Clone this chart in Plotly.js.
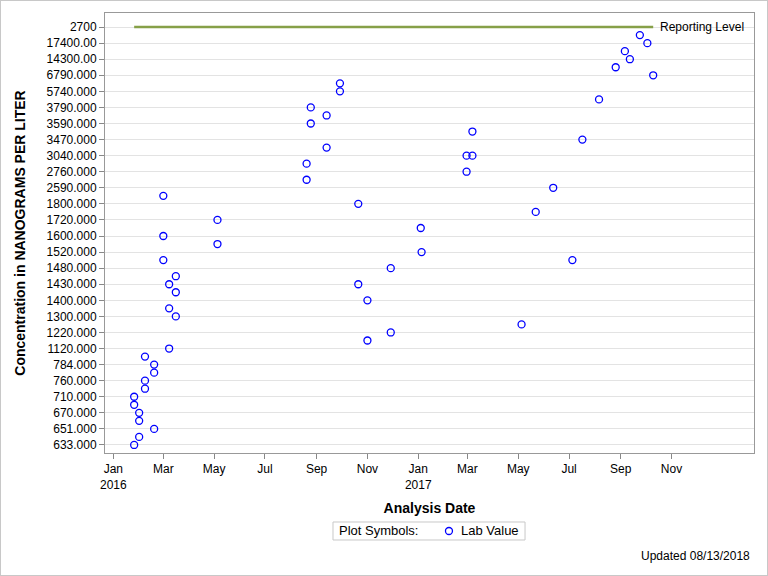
<!DOCTYPE html>
<html>
<head>
<meta charset="utf-8">
<script src="https://cdn.plot.ly/plotly-3.0.1.min.js"></script>
<style>
  html, body { margin: 0; padding: 0; background: #fff; }
  #wrap { position: relative; width: 768px; height: 576px; }
  #chart { width: 768px; height: 576px; }
  #frame { position: absolute; left: 0; top: 0; width: 768px; height: 576px; box-sizing: border-box; border: 1px solid #c8c8c8; pointer-events: none; }
</style>
</head>
<body>
<div id="wrap"><div id="chart"></div><div id="frame"></div></div>
<script>
// Category order of the concentration axis (bottom to top); labelled ones shown as ticks
const categories = [
  "633.000","640.000","651.000","660.000","670.000","690.000","710.000","740.000",
  "760.000","770.000","784.000","950.000","1120.000","1170.000","1220.000","1260.000",
  "1300.000","1350.000","1400.000","1410.000","1430.000","1450.000","1480.000","1500.000",
  "1520.000","1560.000","1600.000","1660.000","1720.000","1760.000","1800.000","2200.000",
  "2590.000","2650.000","2760.000","2900.000","3040.000","3300.000","3470.000","3520.000",
  "3590.000","3700.000","3790.000","4800.000","5740.000","6200.000","6790.000","9800.000",
  "14300.00","16000.00","17400.00","21000.00","2700"
];
const tickLabels = [
  "633.000","651.000","670.000","710.000","760.000","784.000","1120.000","1220.000",
  "1300.000","1400.000","1430.000","1480.000","1520.000","1600.000","1720.000","1800.000",
  "2590.000","2760.000","3040.000","3470.000","3590.000","3790.000","5740.000","6790.000",
  "14300.00","17400.00","2700"
];

// Lab values
const sampleDates = [
  "2016-01-26","2016-01-26","2016-01-26","2016-02-01","2016-02-01","2016-02-01",
  "2016-02-08","2016-02-08","2016-02-08","2016-02-19","2016-02-19","2016-02-19",
  "2016-03-01","2016-03-01","2016-03-01","2016-03-08","2016-03-08","2016-03-08",
  "2016-03-16","2016-03-16","2016-03-16","2016-05-05","2016-05-05",
  "2016-08-20","2016-08-20","2016-08-25","2016-08-25","2016-09-13","2016-09-13",
  "2016-09-29","2016-09-29","2016-10-21","2016-10-21","2016-11-01","2016-11-01",
  "2016-11-29","2016-11-29","2017-01-04","2017-01-05","2017-02-28","2017-02-28",
  "2017-03-07","2017-03-07","2017-05-05","2017-05-22","2017-06-12","2017-07-05",
  "2017-07-17","2017-08-06","2017-08-26","2017-09-06","2017-09-12","2017-09-24",
  "2017-10-03","2017-10-10"
];
const sampleValues = [
  "633.000","710.000","690.000","640.000","660.000","670.000",
  "740.000","760.000","950.000","651.000","770.000","784.000",
  "1500.000","1600.000","2200.000","1120.000","1350.000","1430.000",
  "1300.000","1410.000","1450.000","1560.000","1720.000",
  "2650.000","2900.000","3590.000","3790.000","3300.000","3700.000",
  "5740.000","6200.000","1430.000","1800.000","1170.000","1400.000",
  "1220.000","1480.000","1660.000","1520.000","2760.000","3040.000",
  "3040.000","3520.000","1260.000","1760.000","2590.000","1500.000",
  "3470.000","4800.000","9800.000","16000.00","14300.00","21000.00",
  "17400.00","6790.000"
];

// Reporting level
const reportDates = ["2016-01-26","2017-10-10"];
const reportValues = ["2700","2700"];
const reportLabel = "Reporting Level";

// X axis ticks
const xTickVals = ["2016-01-01","2016-03-01","2016-05-01","2016-07-01","2016-09-01","2016-11-01",
                   "2017-01-01","2017-03-01","2017-05-01","2017-07-01","2017-09-01","2017-11-01"];
const xTickText = ["Jan<br>2016","Mar","May","Jul","Sep","Nov","Jan<br>2017","Mar","May","Jul","Sep","Nov"];

const FONT = '"Liberation Sans", Arial, sans-serif';
const BLUE = '#0000ff';

const traces = [
  {
    x: reportDates, y: reportValues, type: 'scatter', mode: 'lines',
    line: {color: '#86a048', width: 2.5}, showlegend: false, hoverinfo: 'skip'
  },
  {
    x: sampleDates, y: sampleValues, type: 'scatter', mode: 'markers',
    name: 'Lab Value', showlegend: false,
    marker: {symbol: 'circle-open', size: 7, color: BLUE, line: {width: 1.3, color: BLUE}}
  }
];

// legend box geometry in paper units (plot area: 649 x 440 px)
const lgX0 = 0.3513, lgX1 = 0.6472, lgY0 = -0.1977, lgY1 = -0.1568, lgYc = (lgY0 + lgY1) / 2;

const layout = {
  width: 768, height: 576,
  margin: {l: 105, r: 14, t: 13, b: 123},
  paper_bgcolor: '#fff', plot_bgcolor: '#fff',
  font: {family: FONT, size: 12, color: '#000'},
  showlegend: false,
  xaxis: {
    type: 'date',
    range: ['2015-12-22', '2018-02-08'],
    tickvals: xTickVals, ticktext: xTickText,
    ticks: 'outside', ticklen: 5, tickcolor: '#888',
    showline: true, linecolor: '#999', mirror: true,
    showgrid: false, zeroline: false,
    tickfont: {size: 12, color: '#000'},
    title: {text: 'Analysis Date', font: {size: 14, family: FONT, weight: 'bold', color: '#000'}, standoff: 12}
  },
  yaxis: {
    type: 'category',
    categoryorder: 'array', categoryarray: categories,
    range: [-1, 53.75],
    tickvals: tickLabels, ticktext: tickLabels,
    ticks: 'outside', ticklen: 5, tickcolor: '#888',
    showline: true, linecolor: '#999', mirror: true,
    showgrid: true, gridcolor: '#e3e3e3', gridwidth: 1,
    zeroline: false,
    tickfont: {size: 12, color: '#000'},
    title: {text: 'Concentration in NANOGRAMS PER LITER', font: {size: 14, family: FONT, weight: 'bold', color: '#000'}, standoff: 17}
  },
  shapes: [
    {type: 'rect', xref: 'paper', yref: 'paper', x0: lgX0, x1: lgX1, y0: lgY0, y1: lgY1,
     line: {color: '#c8c8c8', width: 1}, fillcolor: '#fff'},
    {type: 'circle', xref: 'paper', yref: 'paper', xsizemode: 'pixel', ysizemode: 'pixel',
     xanchor: 0.530, yanchor: lgYc, x0: -3.5, x1: 3.5, y0: -3.5, y1: 3.5,
     line: {color: BLUE, width: 1.3}}
  ],
  annotations: [
    {x: reportDates[1], y: categories.indexOf(reportValues[1]), xref: 'x', yref: 'y', text: reportLabel,
     showarrow: false, xanchor: 'left', yanchor: 'middle', xshift: 5, font: {size: 12, family: FONT, color: '#000'}},
    {x: 1, y: -0.234, xref: 'paper', yref: 'paper', text: 'Updated 08/13/2018',
     showarrow: false, xanchor: 'right', yanchor: 'middle', xshift: -2, font: {size: 12, family: FONT, color: '#000'}},
    {x: 0.357, y: lgYc, xref: 'paper', yref: 'paper', text: 'Plot Symbols:',
     showarrow: false, xanchor: 'left', yanchor: 'middle', font: {size: 13, family: FONT, color: '#000'}},
    {x: 0.5455, y: lgYc, xref: 'paper', yref: 'paper', text: 'Lab Value',
     showarrow: false, xanchor: 'left', yanchor: 'middle', font: {size: 13, family: FONT, color: '#000'}}
  ]
};

Plotly.newPlot('chart', traces, layout, {displayModeBar: false, staticPlot: true});
</script>
</body>
</html>
